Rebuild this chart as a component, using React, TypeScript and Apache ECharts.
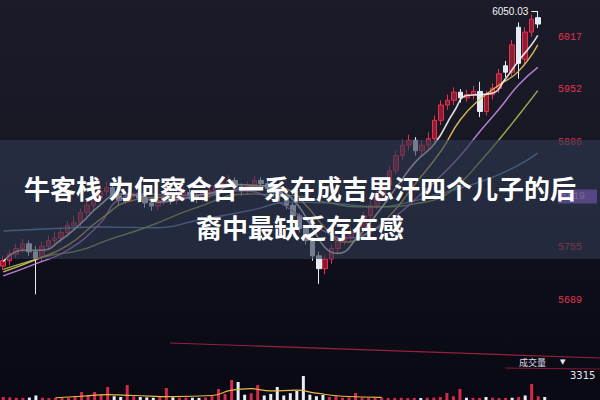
import React, { useEffect, useRef } from 'react';
import * as echarts from 'echarts';

// candles: [open, close, low, high]
const candles: number[][] = [
  [5732, 5739, 5727, 5745], [5739, 5747, 5733, 5752], [5747, 5754, 5742, 5760], [5754, 5760, 5749, 5766],
  [5760, 5750, 5745, 5764], [5750, 5742, 5697, 5757], [5744, 5757, 5738, 5763], [5757, 5764, 5752, 5770],
  [5764, 5767, 5757, 5775], [5767, 5774, 5761, 5780], [5774, 5783, 5769, 5788], [5783, 5786, 5776, 5795],
  [5786, 5799, 5781, 5804], [5799, 5808, 5794, 5815], [5808, 5817, 5802, 5823], [5817, 5825, 5811, 5832],
  [5825, 5830, 5819, 5838], [5830, 5820, 5814, 5834], [5820, 5814, 5808, 5826], [5814, 5818, 5809, 5824],
  [5818, 5823, 5812, 5829], [5823, 5817, 5811, 5828], [5817, 5811, 5805, 5822], [5811, 5807, 5801, 5816],
  [5807, 5814, 5802, 5819], [5814, 5819, 5808, 5825], [5819, 5814, 5809, 5823], [5814, 5820, 5809, 5826],
  [5820, 5824, 5814, 5830], [5824, 5820, 5815, 5828], [5820, 5817, 5811, 5825], [5817, 5823, 5812, 5828],
  [5823, 5826, 5817, 5833], [5826, 5831, 5821, 5836], [5831, 5835, 5826, 5842], [5835, 5839, 5830, 5846],
  [5839, 5831, 5826, 5843], [5831, 5826, 5820, 5835], [5826, 5833, 5821, 5838], [5833, 5839, 5828, 5845],
  [5839, 5835, 5829, 5843], [5835, 5829, 5824, 5839], [5829, 5824, 5818, 5832], [5824, 5819, 5813, 5827],
  [5819, 5808, 5803, 5822], [5808, 5795, 5790, 5811], [5795, 5779, 5774, 5798], [5779, 5764, 5759, 5783],
  [5764, 5745, 5739, 5768], [5745, 5729, 5710, 5750], [5729, 5741, 5722, 5746], [5741, 5754, 5735, 5759],
  [5754, 5764, 5748, 5769], [5764, 5769, 5758, 5775], [5769, 5774, 5763, 5780], [5774, 5779, 5768, 5785],
  [5779, 5795, 5774, 5800], [5795, 5808, 5790, 5814], [5808, 5820, 5803, 5826], [5820, 5833, 5815, 5839],
  [5833, 5851, 5828, 5857], [5851, 5870, 5846, 5876], [5870, 5883, 5864, 5890], [5883, 5889, 5876, 5896],
  [5889, 5876, 5870, 5893], [5876, 5883, 5870, 5889], [5883, 5891, 5877, 5899], [5891, 5914, 5886, 5920],
  [5914, 5933, 5908, 5939], [5933, 5939, 5927, 5946], [5939, 5949, 5933, 5955], [5949, 5942, 5936, 5953],
  [5942, 5946, 5937, 5952], [5946, 5950, 5940, 5957], [5950, 5925, 5918, 5962], [5925, 5946, 5920, 5951],
  [5946, 5954, 5940, 5960], [5954, 5972, 5948, 5978], [5982, 5974, 5968, 5988], [5974, 6008, 5969, 6014],
  [6030, 5985, 5966, 6036], [5990, 6024, 5984, 6030], [6024, 6040, 6018, 6046], [6042, 6034, 6029, 6050.03],
];

const categories: string[] = candles.map((_, i) => `D${i + 1}`);

// moving-average lines as [candle index, price]
const ma5: number[][] = [
  [0, 5738], [3, 5752], [6, 5752], [9, 5765], [12, 5785], [15, 5808], [18, 5822], [21, 5820], [24, 5812],
  [27, 5815], [30, 5820], [33, 5825], [36, 5834], [39, 5833], [42, 5830], [45, 5815], [48, 5780], [50, 5755],
  [52, 5748], [55, 5768], [58, 5797], [61, 5830], [64, 5862], [67, 5885], [70, 5925], [72, 5945], [74, 5946],
  [76, 5948], [78, 5966], [80, 5988], [82, 6008], [83, 6020],
];
const ma10: number[][] = [
  [0, 5725], [5, 5740], [10, 5758], [15, 5790], [20, 5814], [25, 5818], [30, 5817], [35, 5826], [40, 5832],
  [44, 5828], [47, 5808], [50, 5780], [53, 5762], [56, 5770], [60, 5795], [64, 5835], [68, 5876], [71, 5915],
  [74, 5940], [77, 5958], [80, 5975], [83, 6008],
];
const ma20: number[][] = [
  [0, 5720], [5, 5735], [10, 5752], [15, 5785], [18, 5815], [22, 5822], [27, 5820], [32, 5822], [37, 5826],
  [42, 5815], [46, 5795], [50, 5775], [53, 5767], [57, 5775], [61, 5795], [65, 5823], [68, 5845], [71, 5870],
  [74, 5900], [77, 5928], [80, 5958], [83, 5980],
];
const ma30: number[][] = [
  [0, 5728], [4, 5738], [7, 5745], [12, 5752], [16, 5764], [22, 5780], [30, 5805], [38, 5822], [45, 5820],
  [50, 5812], [55, 5806], [60, 5806], [64, 5810], [68, 5818], [71, 5836], [74, 5862], [77, 5890], [80, 5920],
  [83, 5951],
];
const ma60: number[][] = [
  [0, 5776], [8, 5779], [15, 5781], [24, 5780], [30, 5789], [38, 5801], [45, 5812], [52, 5810], [58, 5806],
  [63, 5812], [68, 5823], [72, 5832], [76, 5843], [80, 5858], [83, 5873],
];

const volumes: number[] = [
  400, 350, 300, 280, 320, 600, 300, 250, 260, 280, 300, 500, 1061, 600, 1061, 700, 1724, 500, 400, 1989,
  500, 400, 350, 300, 400, 1591, 350, 300, 320, 300, 280, 350, 500, 1459, 800, 2652, 2387, 700, 900, 1989,
  600, 800, 1724, 600, 900, 1200, 3182, 700, 500, 663, 400, 530, 300, 350, 928, 300, 250, 280, 300, 260,
  280, 300, 250, 280, 260, 300, 320, 400, 928, 500, 1459, 300, 280, 260, 400, 300, 250, 280, 300, 400,
  600, 2122, 500, 400,
];
const volMaA: number[][] = [
  [8, 300], [12, 500], [16, 700], [20, 600], [26, 450], [32, 600], [35, 1300], [38, 1500], [41, 1200],
  [45, 1300], [48, 900], [52, 500], [58, 350],
];

const priceTicks: number[] = [6017, 5952, 5886, 5819, 5755, 5689];
const highlightTick = 5819;
const volTick: number[] = [3315];
const maxLabel = '6050.03';
const maxValue = 6050.03;
const title1 = '牛客栈 为何察合台一系在成吉思汗四个儿子的后';
const title2 = '裔中最缺乏存在感';

export default function App() {
  const ref = useRef<HTMLDivElement>(null);
  useEffect(() => {
    const chart = echarts.init(ref.current!, null, { renderer: 'svg' });
    const lineSeries = (data: number[][], color: string, width = 1.4) => ({
      type: 'line',
      data,
      smooth: true,
      symbol: 'none',
      xAxisIndex: 0,
      yAxisIndex: 0,
      lineStyle: { color, width, opacity: 0.9 },
      z: 3,
    });
    const option: any = {
      animation: false,
      backgroundColor: {
        type: 'linear', x: 0, y: 0, x2: 0, y2: 1,
        colorStops: [
          { offset: 0, color: '#1c1b29' },
          { offset: 0.35, color: '#181825' },
          { offset: 0.7, color: '#0e0e1a' },
          { offset: 1, color: '#090913' },
        ],
      },
      title: {
        text: title1 + '\n' + title2,
        left: 'center',
        top: 163,
        z: 20,
        textStyle: {
          color: '#ffffff',
          fontSize: 26,
          lineHeight: 39,
          fontWeight: 'bold',
          fontFamily: 'Noto Sans CJK SC',
          align: 'center',
        },
      },
      grid: [
        { left: 0, right: 52, top: 0, bottom: 60 },
        { left: 0, right: 52, top: 375, height: 25 },
      ],
      xAxis: [
        { type: 'category', data: categories, gridIndex: 0, boundaryGap: true, show: false },
        { type: 'category', data: categories, gridIndex: 1, boundaryGap: true, show: false },
      ],
      yAxis: [
        {
          type: 'value', gridIndex: 0, position: 'right', min: 5640, max: 6064, scale: true,
          axisLine: { show: false }, axisTick: { show: false }, splitLine: { show: false },
          axisLabel: {
            customValues: priceTicks,
            margin: 17,
            color: '#e0334e',
            fontSize: 10,
            fontFamily: 'Liberation Mono',
            formatter: (v: number) => (Math.round(v) === highlightTick ? `{hl|${Math.round(v)}}` : String(Math.round(v))),
            rich: {
              hl: {
                color: '#d9b8ff', backgroundColor: '#9a58d8', padding: [2, 12, 2, 3],
                fontSize: 10, fontFamily: 'Liberation Mono',
              },
            },
          },
        },
        {
          type: 'value', gridIndex: 1, position: 'right', min: 0, max: 3315,
          axisLine: { show: false }, axisTick: { show: false }, splitLine: { show: false },
          axisLabel: {
            customValues: volTick, margin: 22, color: '#e6e6ee', fontSize: 10,
            fontFamily: 'DejaVu Sans', verticalAlign: 'middle',
            formatter: (v: number) => String(Math.round(v)),
          },
        },
      ],
      series: [
        {
          type: 'candlestick',
          data: candles,
          xAxisIndex: 0,
          yAxisIndex: 0,
          barWidth: 5,
          z: 2,
          itemStyle: {
            color: 'rgba(210,35,65,0.6)',
            color0: '#e4ecf4',
            borderColor: '#e8304c',
            borderColor0: '#e4ecf4',
            borderWidth: 1,
          },
          markLine: {
            symbol: 'none',
            silent: true,
            lineStyle: { color: '#f0f0f0', width: 1, type: 'solid' },
            label: { show: true, position: 'start', formatter: maxLabel, color: '#f2f2f2', fontSize: 10, distance: 3 },
            data: [[{ coord: [81.9, maxValue] }, { coord: [82.9, maxValue] }]],
          },
        },
        lineSeries(ma60, '#6f9fd0', 1.4),
        lineSeries(ma30, '#a9c15a', 1.4),
        lineSeries(ma20, '#c88ce6', 1.4),
        lineSeries(ma10, '#e7c95c', 1.4),
        lineSeries(ma5, '#f4f4f4', 1.6),
        {
          type: 'bar',
          xAxisIndex: 1,
          yAxisIndex: 1,
          barWidth: 3,
          data: volumes.map((v, i) => ({
            value: v,
            itemStyle: { color: candles[i][1] >= candles[i][0] ? '#d42a4a' : '#e8eef4' },
          })),
        },
        {
          type: 'line', xAxisIndex: 1, yAxisIndex: 1, data: volMaA, smooth: true, symbol: 'none',
          lineStyle: { color: '#e8b84a', width: 1.2 },
        },
      ],
      graphic: [
        {
          type: 'rect', z: 10, silent: true,
          shape: { x: 0, y: 140, width: 600, height: 119 },
          style: { fill: 'rgba(48,58,80,0.62)' },
        },
        {
          type: 'line', z: 5, silent: true,
          shape: { x1: 170, y1: 343, x2: 600, y2: 358 },
          style: { stroke: 'rgba(200,40,75,0.75)', lineWidth: 1.2 },
        },
        {
          type: 'line', z: 5, silent: true,
          shape: { x1: 505, y1: 368, x2: 600, y2: 369 },
          style: { stroke: 'rgba(170,30,55,0.7)', lineWidth: 1.2 },
        },
        {
          type: 'text', z: 6, silent: true, x: 519, y: 358,
          style: { text: '成交量', fill: '#dcdce4', fontSize: 9, fontFamily: 'Noto Sans CJK SC' },
        },
        {
          type: 'text', z: 6, silent: true, x: 560, y: 358,
          style: { text: '▼', fill: '#e8e8ee', fontSize: 7, fontFamily: 'DejaVu Sans' },
        },
      ],
    };
    chart.setOption(option);
    return () => chart.dispose();
  }, []);
  return <div ref={ref} style={{ position: 'fixed', left: 0, top: 0, width: 600, height: 400 }} />;
}
